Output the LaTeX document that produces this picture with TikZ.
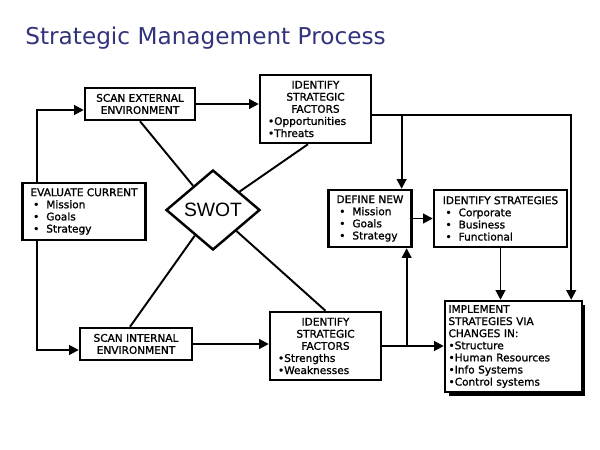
\documentclass[tikz,border=0pt]{standalone}
\usepackage{fontspec}
\setmainfont{DejaVu Sans}
\newfontfamily\boxfont[FakeBold=1.2]{DejaVu Sans}
\newfontfamily\swotfont{Liberation Sans}
\usetikzlibrary{arrows.meta, positioning, shapes.geometric, calc, shadows}

\definecolor{titleblue}{RGB}{50,50,125}
\newcommand{\bul}{\hspace*{1.5pt}\makebox[7.5pt][l]{\textbullet}}

\begin{document}
\begin{tikzpicture}[
    x=0.02cm, y=-0.02cm,
    every node/.style={font=\boxfont\fontsize{6}{6.9}\selectfont},
    box/.style={draw, line width=1.4pt, fill=white, inner xsep=0.16cm, inner ysep=0pt},
    arrow/.style={-{Triangle[length=5.5pt, width=5.5pt]}, line width=1.1pt},
    link/.style={line width=1.1pt},
    title/.style={font=\fontsize{13.2}{15}\selectfont, text=titleblue, anchor=base west, inner sep=0pt}
]
\useasboundingbox (0,0) rectangle (600,450);

% ============ TITLE ============
\node[title] (head) at (25,44) {Strategic Management Process};

% ============ LEFT COLUMN ============
\node[box, align=left, minimum width=2.4cm, minimum height=1.14cm] (eval) at (84,211.5) {%
    EVALUATE CURRENT\\
    \bul Mission\\
    \bul Goals\\
    \bul Strategy};

\node[box, align=center, minimum width=2.2cm, minimum height=0.64cm] (ext) at (140,104) {%
    SCAN EXTERNAL\\ENVIRONMENT};

\node[box, align=center, minimum width=2.24cm, minimum height=0.64cm] (int) at (136,344) {%
    SCAN INTERNAL\\ENVIRONMENT};

% ============ SWOT ============
\node[diamond, draw, line width=1.4pt, fill=white, inner sep=0pt,
      minimum width=1.88cm, minimum height=1.6cm, font=\swotfont\fontsize{11}{12}\selectfont] (swot) at (213,210) {SWOT};

% ============ STRATEGIC FACTORS ============
\node[box, align=left, text width=1.9cm, minimum height=1.36cm] (ofac) at (315.5,109) {%
    {\centering IDENTIFY\\STRATEGIC\\FACTORS\par}
    \textbullet Opportunities\\
    \textbullet Threats};

\node[box, align=left, text width=1.9cm, minimum height=1.36cm] (sfac) at (325.5,346) {%
    {\centering IDENTIFY\\STRATEGIC\\FACTORS\par}
    \textbullet Strengths\\
    \textbullet Weaknesses};

% ============ RIGHT SIDE ============
\node[box, align=left, minimum width=1.64cm, minimum height=1.14cm] (defn) at (370,218.5) {%
    DEFINE NEW\\
    \bul Mission\\
    \bul Goals\\
    \bul Strategy};

\node[box, align=left, minimum width=2.66cm, minimum height=1.14cm] (idst) at (500.5,218.5) {%
    IDENTIFY STRATEGIES\\
    \bul Corporate\\
    \bul Business\\
    \bul Functional};

\node[box, align=left, inner xsep=0.07cm, text width=2.6cm, minimum height=1.82cm,
      drop shadow={shadow xshift=2pt, shadow yshift=-2pt, fill=black, opacity=1}] (impl) at (513.5,346.5) {%
    IMPLEMENT\\
    STRATEGIES VIA\\
    CHANGES IN:\\
    \textbullet Structure\\
    \textbullet Human Resources\\
    \textbullet Info Systems\\
    \textbullet Control systems};

% ============ CONNECTORS ============
\draw[arrow] ([xshift=0.32cm]eval.north west) |- ([yshift=-0.12cm]ext.west);
\draw[arrow] ([xshift=0.32cm]eval.south west) |- ([yshift=-0.12cm]int.west);

\draw[arrow] (ext.east) -- (ext.east -| ofac.west);
\draw[arrow] (int.east) -- (int.east -| sfac.west);

% SWOT links
\draw[link] (ext.south) -- (swot);
\draw[link] ([xshift=-0.15cm]ofac.south) -- (swot);
\draw[link] ([xshift=-0.12cm]int.north) -- (swot);
\draw[link] (sfac.north) -- (swot);

% opportunities / threats to the right
\coordinate (otap) at ([yshift=-0.12cm]ofac.east);
\coordinate (ddown) at ([xshift=-0.22cm]defn.north east);
\coordinate (dup) at ([xshift=-0.12cm]defn.south east);
\draw[arrow] (otap) -| ([xshift=-0.24cm]impl.north east);
\draw[arrow] (otap -| ddown) -- (ddown);

% strengths / weaknesses to the right
\draw[arrow] (sfac.east) -- (sfac.east -| impl.west);
\draw[arrow] (sfac.east -| dup) -- (dup);

\draw[arrow] (defn.east) -- (idst.west);
\draw[arrow] (idst.south) -- (idst.south |- impl.north);

\end{tikzpicture}
\end{document}
